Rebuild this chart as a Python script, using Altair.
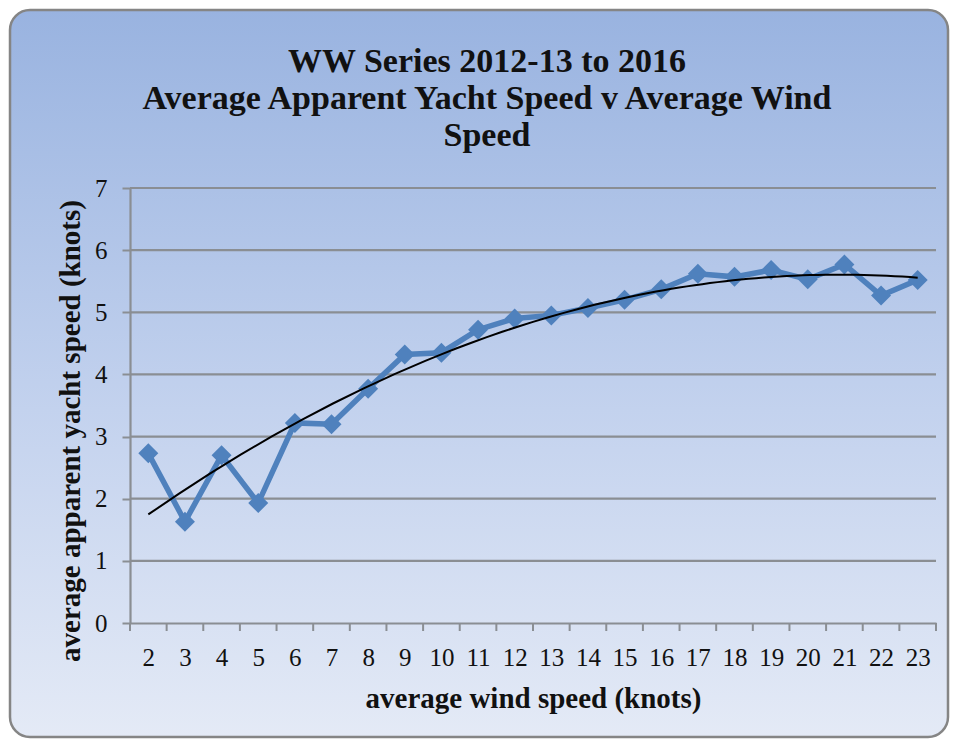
import altair as alt
import pandas as pd

# ---- data ----
WIND = [2, 3, 4, 5, 6, 7, 8, 9, 10, 11, 12, 13, 14, 15, 16, 17, 18, 19, 20, 21, 22, 23]
YACHT = [2.73, 1.63, 2.70, 1.93, 3.22, 3.20, 3.77, 4.32, 4.35, 4.72, 4.90, 4.95,
         5.07, 5.20, 5.37, 5.62, 5.57, 5.68, 5.53, 5.77, 5.27, 5.52]
Y_TICKS = [0, 1, 2, 3, 4, 5, 6, 7]
TITLE = ["WW Series 2012-13 to 2016",
         "Average Apparent Yacht Speed v Average Wind",
         "Speed"]
X_TITLE = "average wind speed (knots)"
Y_TITLE = "average apparent yacht speed (knots)"

W, H = 806, 435
FONT = "Liberation Serif"
GRAY = "#8a8e93"
BLUE = "#4f81bd"

df = pd.DataFrame({"x": WIND, "y": YACHT})
grid_df = pd.DataFrame({"y": Y_TICKS[1:]})
bounds_df = pd.DataFrame({"x": [c - 0.5 for c in WIND] + [WIND[-1] + 0.5]})

xscale = alt.Scale(domain=[WIND[0] - 0.5, WIND[-1] + 0.5], nice=False, zero=False)
yscale = alt.Scale(domain=[Y_TICKS[0], Y_TICKS[-1]], nice=False)

xaxis = alt.Axis(values=WIND, format="d", ticks=False, tickSize=0, grid=False,
                 domainColor=GRAY, domainWidth=2.2,
                 labelFont=FONT, labelFontSize=25, labelColor="#111111",
                 labelPadding=22, labelFlush=False, labelOverlap=False,
                 title=X_TITLE, titleFont=FONT, titleFontSize=29,
                 titleFontWeight="bold", titleColor="#111111",
                 titlePadding=14, zindex=1)
yaxis = alt.Axis(values=Y_TICKS, format="d", grid=False, tickSize=8, tickWidth=2,
                 tickColor=GRAY, domainColor=GRAY, domainWidth=2.2,
                 labelFont=FONT, labelFontSize=25, labelColor="#111111",
                 labelPadding=15,
                 title=Y_TITLE, titleFont=FONT, titleFontSize=29,
                 titleFontWeight="bold", titleColor="#111111",
                 titlePadding=9, titleY=H / 2 + 25, zindex=1)

bg = alt.Chart(pd.DataFrame({"a": [0]})).mark_rect(
    cornerRadius=20,
    stroke="#858585",
    strokeWidth=2.5,
    fill=alt.LinearGradient(
        gradient="linear",
        stops=[alt.GradientStop(color="#99b3e0", offset=0),
               alt.GradientStop(color="#c3d2ee", offset=0.55),
               alt.GradientStop(color="#e4eaf6", offset=1)],
        x1=0, x2=0, y1=0, y2=1),
).encode(
    x=alt.value(-120), x2=alt.value(W + 12),
    y=alt.value(-178), y2=alt.value(H + 114),
)

grid = alt.Chart(grid_df).mark_rule(color=GRAY, strokeWidth=2.2).encode(
    y=alt.Y("y:Q", scale=yscale, axis=yaxis),
    x=alt.value(0), x2=alt.value(W),
)

xticks = alt.Chart(bounds_df).mark_rule(color=GRAY, strokeWidth=2).encode(
    x=alt.X("x:Q", scale=xscale, axis=xaxis),
    y=alt.value(H), y2=alt.value(H + 8),
)

line = alt.Chart(df).mark_line(color=BLUE, strokeWidth=5.5).encode(
    x=alt.X("x:Q", scale=xscale, axis=xaxis),
    y=alt.Y("y:Q", scale=yscale, axis=yaxis),
)

points = alt.Chart(df).mark_point(shape="diamond", filled=True, size=400,
                                  color=BLUE, opacity=1).encode(
    x=alt.X("x:Q", scale=xscale, axis=xaxis),
    y=alt.Y("y:Q", scale=yscale, axis=yaxis),
)

trend = alt.Chart(df).transform_regression(
    "x", "y", method="poly", order=2
).mark_line(color="#000000", strokeWidth=2).encode(
    x=alt.X("x:Q", scale=xscale, axis=xaxis),
    y=alt.Y("y:Q", scale=yscale, axis=yaxis),
)

chart = alt.layer(bg, grid, xticks, line, points, trend).properties(
    width=W, height=H,
    autosize=alt.AutoSizeParams(type="none"),
    padding={"left": 122, "top": 180, "right": 14, "bottom": 116},
    background="white",
    title=alt.Title(text=TITLE, font=FONT, fontSize=34, fontWeight="bold",
                    color="#111111", anchor="middle", frame="bounds",
                    lineHeight=37, offset=-144, dx=8),
).configure_view(stroke=None)

chart.save("out.html", embed_options={"renderer": "svg", "actions": False})
